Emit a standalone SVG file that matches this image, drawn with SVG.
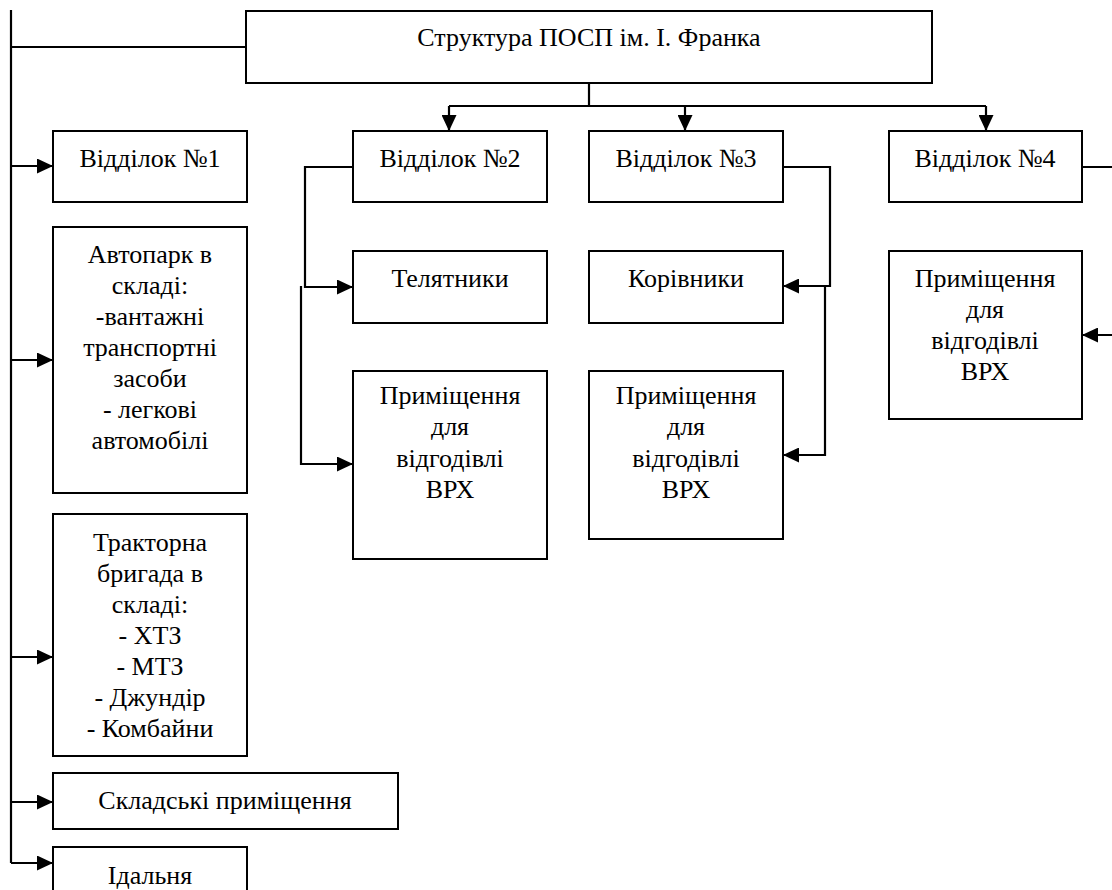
<svg xmlns="http://www.w3.org/2000/svg" width="1112" height="890" viewBox="0 0 1112 890">
<style>
.box{fill:#fff;stroke:#000;stroke-width:2}
.t{font-family:"Liberation Serif","Times New Roman","DejaVu Serif",serif;font-size:26px;fill:#000;text-anchor:middle}
.c{fill:none;stroke:#000;stroke-width:2.2}
</style>
<defs>
<marker id="ah" markerUnits="userSpaceOnUse" markerWidth="16" markerHeight="15" refX="16" refY="7.5" orient="auto">
<path d="M0,0 L16,7.5 L0,15 z" fill="#000"/>
</marker>
</defs>
<rect width="1112" height="890" fill="#fff"/>
<g id="connectors">
<path class="c" d="M11,10 V863"/>
<path class="c" d="M11,47 H246"/>
<path class="c" d="M11,166 H53" marker-end="url(#ah)"/>
<path class="c" d="M11,360 H53" marker-end="url(#ah)"/>
<path class="c" d="M11,657 H53" marker-end="url(#ah)"/>
<path class="c" d="M11,802 H53" marker-end="url(#ah)"/>
<path class="c" d="M11,863 H53" marker-end="url(#ah)"/>
<path class="c" d="M589,83 V106"/>
<path class="c" d="M449,106 H986"/>
<path class="c" d="M449,106 V131" marker-end="url(#ah)"/>
<path class="c" d="M685,106 V131" marker-end="url(#ah)"/>
<path class="c" d="M986,106 V131" marker-end="url(#ah)"/>
<path class="c" d="M353,167 H305 V287 H353" marker-end="url(#ah)"/>
<path class="c" d="M301,286 V464 H353" marker-end="url(#ah)"/>
<path class="c" d="M783,167 H830 V286 H783" marker-end="url(#ah)"/>
<path class="c" d="M825,286 V455 H783" marker-end="url(#ah)"/>
<path class="c" d="M1082,167 H1125 V335 H1082" marker-end="url(#ah)"/>
</g>
<g id="top">
<rect class="box" x="246" y="11" width="686" height="72"/>
<text class="t" x="589" y="46" font-family="Liberation Serif, serif">Структура ПОСП ім. І. Франка</text>
</g>
<g id="viddilok1">
<rect class="box" x="53" y="131" width="194" height="71"/>
<text class="t" x="150" y="167" font-family="Liberation Serif, serif">Відділок №1</text>
</g>
<g id="viddilok2">
<rect class="box" x="353" y="131" width="194" height="71"/>
<text class="t" x="450" y="167" font-family="Liberation Serif, serif">Відділок №2</text>
</g>
<g id="viddilok3">
<rect class="box" x="589" y="131" width="194" height="71"/>
<text class="t" x="686" y="167" font-family="Liberation Serif, serif">Відділок №3</text>
</g>
<g id="viddilok4">
<rect class="box" x="889" y="131" width="193" height="71"/>
<text class="t" x="985" y="167" font-family="Liberation Serif, serif">Відділок №4</text>
</g>
<g id="avtopark" font-family="Liberation Serif, serif">
<rect class="box" x="53" y="227" width="194" height="266"/>
<text class="t" x="150" y="263">Автопарк в</text>
<text class="t" x="150" y="294">складі:</text>
<text class="t" x="150" y="325">-вантажні</text>
<text class="t" x="150" y="356">транспортні</text>
<text class="t" x="150" y="387">засоби</text>
<text class="t" x="150" y="418">- легкові</text>
<text class="t" x="150" y="449">автомобілі</text>
</g>
<g id="traktorna">
<rect class="box" x="53" y="514" width="194" height="242"/>
<text class="t" x="150" y="551">Тракторна</text>
<text class="t" x="150" y="582">бригада в</text>
<text class="t" x="150" y="613">складі:</text>
<text class="t" x="150" y="644">- ХТЗ</text>
<text class="t" x="150" y="675">- МТЗ</text>
<text class="t" x="150" y="706">- Джундір</text>
<text class="t" x="150" y="737">- Комбайни</text>
</g>
<g id="skladski">
<rect class="box" x="53" y="773" width="345" height="56"/>
<text class="t" x="225" y="809">Складські приміщення</text>
</g>
<g id="idalnia">
<rect class="box" x="53" y="847" width="194" height="60"/>
<text class="t" x="150" y="884">Ідальня</text>
</g>
<g id="teliatnyky">
<rect class="box" x="353" y="251" width="194" height="72"/>
<text class="t" x="450" y="287">Телятники</text>
</g>
<g id="prym2">
<rect class="box" x="353" y="371" width="194" height="188"/>
<text class="t" x="450" y="404">Приміщення</text>
<text class="t" x="450" y="435">для</text>
<text class="t" x="450" y="467">відгодівлі</text>
<text class="t" x="450" y="498">ВРХ</text>
</g>
<g id="korivnyky">
<rect class="box" x="589" y="251" width="194" height="72"/>
<text class="t" x="686" y="287">Корівники</text>
</g>
<g id="prym3">
<rect class="box" x="589" y="371" width="194" height="168"/>
<text class="t" x="686" y="404">Приміщення</text>
<text class="t" x="686" y="435">для</text>
<text class="t" x="686" y="467">відгодівлі</text>
<text class="t" x="686" y="498">ВРХ</text>
</g>
<g id="prym4">
<rect class="box" x="889" y="251" width="193" height="168"/>
<text class="t" x="985" y="287">Приміщення</text>
<text class="t" x="985" y="318">для</text>
<text class="t" x="985" y="349">відгодівлі</text>
<text class="t" x="985" y="380">ВРХ</text>
</g>
</svg>
